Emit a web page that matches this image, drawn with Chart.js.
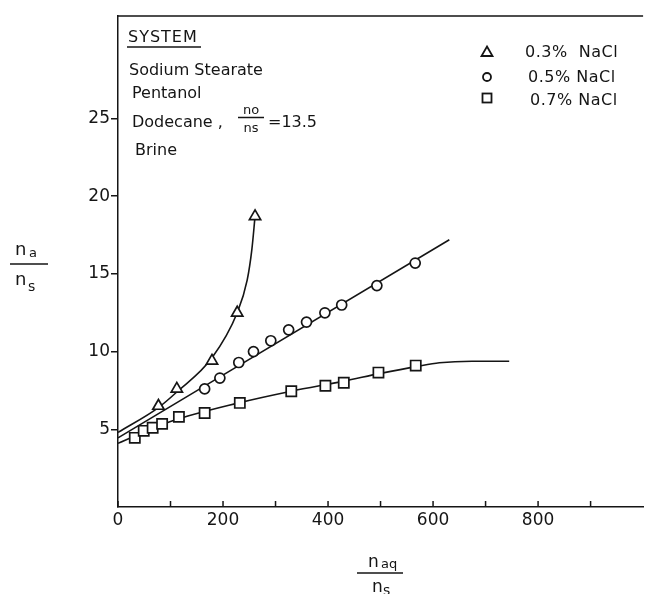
<!DOCTYPE html>
<html lang="en">
<head>
<meta charset="UTF-8" />
<title>na/ns vs naq/ns</title>
<style>
  html, body { margin: 0; padding: 0; background: #fff; overflow: hidden; }
  #wrap { width: 652px; height: 594px; }
</style>
</head>
<body>
<div id="wrap"><canvas id="chart" width="652" height="594"></canvas></div>

<script src="https://cdn.jsdelivr.net/npm/chart.js@4.4.1/dist/chart.umd.min.js"></script>
<script>
  // measured points: x = n_aq/n_s, y = n_a/n_s
  const nacl03X = [77, 112, 179, 227, 261];
  const nacl03Y = [6.5, 7.6, 9.4, 12.5, 18.7];
  const nacl05X = [165, 194, 230, 258, 291, 325, 359, 394, 426, 493, 566];
  const nacl05Y = [7.6, 8.3, 9.3, 10.0, 10.7, 11.4, 11.9, 12.5, 13.0, 14.25, 15.7];
  const nacl07X = [32, 49, 66, 84, 116, 165, 232, 330, 395, 430, 496, 567];
  const nacl07Y = [4.45, 4.9, 5.1, 5.35, 5.8, 6.05, 6.7, 7.45, 7.8, 8.0, 8.65, 9.1];

  // the hand drawn curves at a few places
  const fit03X = [0, 77, 112, 179, 227, 246, 255, 261];
  const fit03Y = [4.8, 6.4, 7.4, 9.6, 12.5, 14.6, 16.6, 18.7];
  const fit05X = [0, 631];
  const fit05Y = [4.45, 17.2];
  const fit07X = [0, 100, 230, 330, 430, 500, 570, 612, 674, 745];
  const fit07Y = [4.1, 5.5, 6.7, 7.45, 8.1, 8.6, 9.05, 9.28, 9.38, 9.38];

  const xTicks = [0, 100, 200, 300, 400, 500, 600, 700, 800, 900];
  const xLabels = [0, 200, 400, 600, 800];
  const yTicks = [5, 10, 15, 20, 25];

  const ink = '#151515';
  const face = 'DejaVu Sans';

  function zip(xs, ys) {
    return xs.map((x, i) => ({ x: x, y: ys[i] }));
  }

  function markers(xs, ys, style, r) {
    return {
      data: zip(xs, ys),
      pointStyle: style,
      pointRadius: r,
      pointHoverRadius: r,
      pointBorderWidth: 1.7,
      pointBorderColor: ink,
      pointBackgroundColor: '#fff',
      order: 0
    };
  }

  function curve(xs, ys) {
    return {
      data: zip(xs, ys),
      showLine: true,
      pointRadius: 0,
      pointHoverRadius: 0,
      borderColor: ink,
      borderWidth: 1.6,
      cubicInterpolationMode: 'monotone',
      fill: false,
      order: 1
    };
  }

  function text(ctx, str, x, y, size, align, spacing) {
    ctx.font = size + 'px "' + face + '"';
    ctx.textAlign = align || 'left';
    ctx.letterSpacing = (spacing || 0) + 'px';
    ctx.fillText(str, x, y);
  }

  // frame top, inward x ticks, the SYSTEM box, legend and axis fractions
  const annotate = {
    id: 'annotate',
    afterDraw(chart) {
      const { ctx, chartArea, scales } = chart;
      ctx.save();
      ctx.strokeStyle = ink;
      ctx.fillStyle = ink;
      ctx.textBaseline = 'alphabetic';
      ctx.lineWidth = 1.5;

      ctx.beginPath();
      ctx.moveTo(chartArea.left, chartArea.top);
      ctx.lineTo(chartArea.right, chartArea.top);
      xTicks.forEach(v => {
        const px = scales.x.getPixelForValue(v);
        ctx.moveTo(px, chartArea.bottom);
        ctx.lineTo(px, chartArea.bottom - 6);
      });
      ctx.stroke();

      // system description
      text(ctx, 'SYSTEM', 128, 42, 16, 'left', 1);
      ctx.beginPath();
      ctx.moveTo(127, 47);
      ctx.lineTo(201, 47);
      ctx.stroke();
      text(ctx, 'Sodium Stearate', 129, 75, 16);
      text(ctx, 'Pentanol', 132, 98, 16);
      text(ctx, 'Dodecane ,', 132, 127, 16);
      text(ctx, 'no', 251, 114, 13, 'center');
      ctx.beginPath();
      ctx.moveTo(238, 117.5);
      ctx.lineTo(264, 117.5);
      ctx.stroke();
      text(ctx, 'ns', 251, 132, 13, 'center');
      text(ctx, '=13.5', 268, 127, 16);
      text(ctx, 'Brine', 135, 155, 16);

      // legend
      ctx.lineWidth = 1.8;
      ctx.beginPath();
      ctx.moveTo(487, 46.5);
      ctx.lineTo(492.5, 56);
      ctx.lineTo(481.5, 56);
      ctx.closePath();
      ctx.stroke();
      ctx.beginPath();
      ctx.arc(487, 77, 4, 0, Math.PI * 2);
      ctx.stroke();
      ctx.strokeRect(482.5, 93.5, 9, 9);
      text(ctx, '0.3%  NaCl', 525, 57, 16, 'left', 0.5);
      text(ctx, '0.5% NaCl', 528, 82, 16, 'left', 0.5);
      text(ctx, '0.7% NaCl', 530, 105, 16, 'left', 0.5);

      // y axis title  n_a / n_s
      ctx.lineWidth = 1.4;
      text(ctx, 'n', 15, 255, 18);
      text(ctx, 'a', 29, 257, 13);
      ctx.beginPath();
      ctx.moveTo(10, 264);
      ctx.lineTo(48, 264);
      ctx.stroke();
      text(ctx, 'n', 15, 285, 18);
      text(ctx, 's', 28, 291, 14);

      // x axis title  n_aq / n_s
      text(ctx, 'n', 368, 567, 17);
      text(ctx, 'aq', 381, 568, 13);
      ctx.beginPath();
      ctx.moveTo(357, 573);
      ctx.lineTo(403, 573);
      ctx.stroke();
      text(ctx, 'n', 372, 592, 17);
      text(ctx, 's', 383, 595, 14);

      ctx.restore();
    }
  };

  new Chart(document.getElementById('chart'), {
    type: 'scatter',
    data: {
      datasets: [
        markers(nacl03X, nacl03Y, 'triangle', 6.5),
        markers(nacl05X, nacl05Y, 'circle', 5),
        markers(nacl07X, nacl07Y, 'rect', 7.2),
        curve(fit03X, fit03Y),
        curve(fit05X, fit05Y),
        curve(fit07X, fit07Y)
      ]
    },
    options: {
      responsive: false,
      animation: false,
      layout: { padding: { top: 16, left: 0, right: 0, bottom: 0 } },
      plugins: {
        legend: { display: false },
        tooltip: { enabled: false }
      },
      scales: {
        x: {
          type: 'linear',
          min: 0,
          max: 1000,
          afterFit: s => { s.height = 87; s.paddingLeft = 0; s.paddingRight = 0; },
          afterBuildTicks: s => { s.ticks = xTicks.map(v => ({ value: v })); },
          grid: { display: false, drawTicks: false },
          border: { display: true, color: ink, width: 1.5 },
          ticks: {
            color: ink,
            padding: 3,
            maxRotation: 0,
            autoSkip: false,
            font: { family: face, size: 17 },
            callback: v => xLabels.includes(v) ? String(v) : ''
          }
        },
        y: {
          type: 'linear',
          min: 0,
          max: 31.6,
          afterFit: s => { s.width = 118; },
          afterBuildTicks: s => { s.ticks = yTicks.map(v => ({ value: v })); },
          grid: {
            display: true,
            drawOnChartArea: false,
            drawTicks: true,
            tickLength: 7,
            color: ink,
            lineWidth: 1.5
          },
          border: { display: true, color: ink, width: 1.5 },
          ticks: {
            color: ink,
            padding: 1,
            autoSkip: false,
            font: { family: face, size: 17 },
            callback: v => String(v)
          }
        }
      }
    },
    plugins: [annotate]
  });
</script>
</body>
</html>
